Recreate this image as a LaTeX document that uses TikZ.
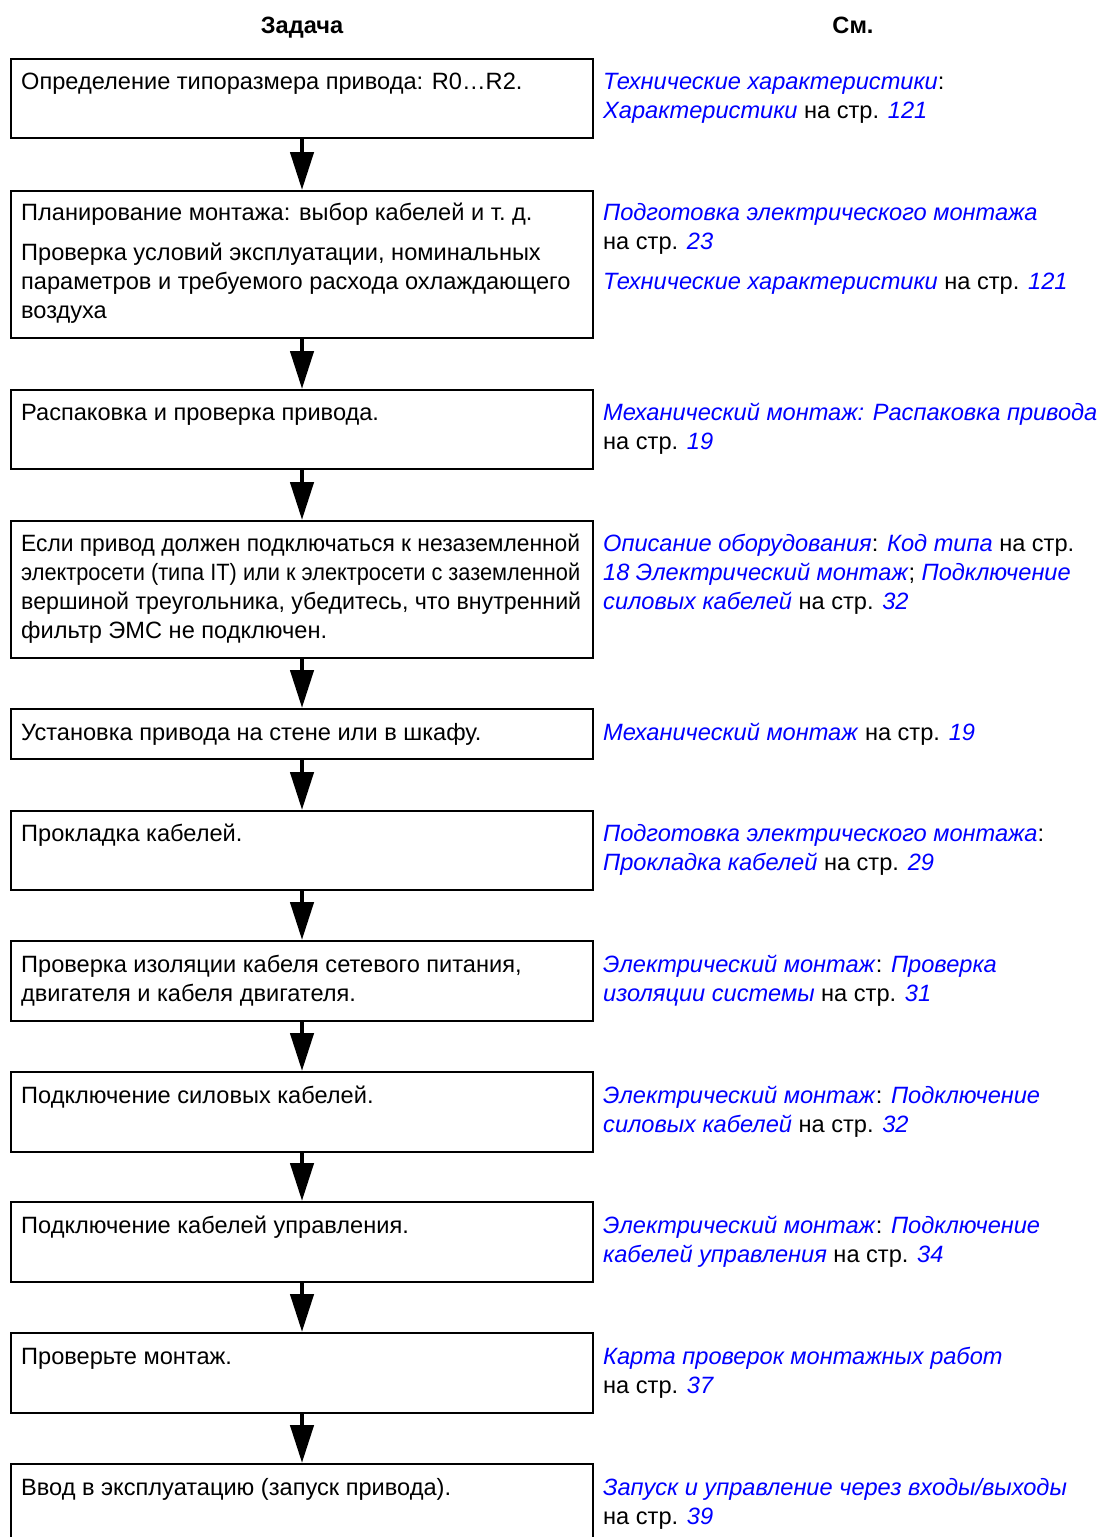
\documentclass[tikz,border=0pt]{standalone}
\usepackage{fontspec}
\setmainfont{Liberation Sans}
\usepackage{xcolor}
\usepackage{graphicx}
\usetikzlibrary{arrows.meta, positioning, calc}

\definecolor{linkblue}{RGB}{0,0,255}
\newcommand{\lnk}[1]{\textcolor{linkblue}{\textit{#1}}}
\newcommand{\tasklines}[1]{\parbox[t]{600pt}{\raggedright #1}}
\newcommand{\reflines}[1]{\parbox[t]{500pt}{\raggedright #1}}
\newcommand{\fitline}[2]{\resizebox{#1}{\height}{#2}}

\begin{document}
\begin{tikzpicture}[x=1pt, y=-1pt]
    % Define styles
    \tikzset{
        task box/.style={
            rectangle,
            draw=black,
            line width=2pt,
            minimum width=582pt,
            anchor=north west,
            inner sep=0pt
        },
        task text/.style={
            anchor=base west,
            inner sep=0pt,
            font=\fontsize{23.6}{29}\selectfont
        },
        ref text/.style={task text},
        head style/.style={anchor=base, inner sep=0pt, font=\fontsize{23.6}{29}\selectfont\bfseries},
        arrow style/.style={-{Triangle[width=23pt, length=38pt]}, line width=4.5pt}
    }
    \useasboundingbox (0,0) rectangle (1103,1537);

    % Column headings
    \node[head style] (h1) at (302,33) {Задача};
    \node[head style] (h2) at (853,33) {См.};

    % Task boxes
    \node[task box, minimum height=79pt]  (b1)  at (10,58) {};
    \node[task box, minimum height=147pt] (b2)  at (10,190) {};
    \node[task box, minimum height=79pt]  (b3)  at (10,389) {};
    \node[task box, minimum height=137pt] (b4)  at (10,520) {};
    \node[task box, minimum height=50pt]  (b5)  at (10,708) {};
    \node[task box, minimum height=79pt]  (b6)  at (10,810) {};
    \node[task box, minimum height=80pt]  (b7)  at (10,940) {};
    \node[task box, minimum height=80pt]  (b8)  at (10,1071) {};
    \node[task box, minimum height=80pt]  (b9)  at (10,1201) {};
    \node[task box, minimum height=80pt]  (b10) at (10,1332) {};
    \node[task box, minimum height=80pt]  (b11) at (10,1463) {};

    % Task texts
    \node[task text] (t1) at (21,89) {\tasklines{Определение типоразмера привода: R0…R2.}};
    \node[task text] (t2) at (21,220) {\tasklines{Планирование монтажа: выбор кабелей и т.~д.\\[11pt]
        Проверка условий эксплуатации, номинальных\\
        параметров и требуемого расхода охлаждающего\\
        воздуха}};
    \node[task text] (t3) at (21,420) {\tasklines{Распаковка и проверка привода.}};
    \node[task text] (t4) at (21,551) {\tasklines{\fitline{559pt}{Если привод должен подключаться к незаземленной}\\
        \fitline{559pt}{электросети (типа IT) или к электросети с заземленной}\\
        \fitline{560pt}{вершиной треугольника, убедитесь, что внутренний}\\
        фильтр ЭМС не подключен.}};
    \node[task text] (t5) at (21,740) {\tasklines{Установка привода на стене или в шкафу.}};
    \node[task text] (t6) at (21,841) {\tasklines{Прокладка кабелей.}};
    \node[task text] (t7) at (21,972) {\tasklines{Проверка изоляции кабеля сетевого питания,\\
        двигателя и кабеля двигателя.}};
    \node[task text] (t8) at (21,1103) {\tasklines{Подключение силовых кабелей.}};
    \node[task text] (t9) at (21,1233) {\tasklines{Подключение кабелей управления.}};
    \node[task text] (t10) at (21,1364) {\tasklines{Проверьте монтаж.}};
    \node[task text] (t11) at (21,1495) {\tasklines{Ввод в эксплуатацию (запуск привода).}};

    % References
    \node[ref text] (r1) at (603,89) {\reflines{\lnk{Технические характеристики}:\\
        \lnk{Характеристики} на стр. \lnk{121}}};
    \node[ref text] (r2) at (603,220) {\reflines{\lnk{Подготовка электрического монтажа}\\
        на стр. \lnk{23}\\[11pt]
        \lnk{Технические характеристики} на стр. \lnk{121}}};
    \node[ref text] (r3) at (603,420) {\reflines{\lnk{Механический монтаж: Распаковка привода}\\
        на стр. \lnk{19}}};
    \node[ref text] (r4) at (603,551) {\reflines{\lnk{Описание оборудования}: \lnk{Код типа} на стр.\\
        \lnk{18 Электрический монтаж}; \lnk{Подключение}\\
        \lnk{силовых кабелей} на стр. \lnk{32}}};
    \node[ref text] (r5) at (603,740) {\reflines{\lnk{Механический монтаж} на стр. \lnk{19}}};
    \node[ref text] (r6) at (603,841) {\reflines{\lnk{Подготовка электрического монтажа}:\\
        \lnk{Прокладка кабелей} на стр. \lnk{29}}};
    \node[ref text] (r7) at (603,972) {\reflines{\lnk{Электрический монтаж}: \lnk{Проверка}\\
        \lnk{изоляции системы} на стр. \lnk{31}}};
    \node[ref text] (r8) at (603,1103) {\reflines{\lnk{Электрический монтаж}: \lnk{Подключение}\\
        \lnk{силовых кабелей} на стр. \lnk{32}}};
    \node[ref text] (r9) at (603,1233) {\reflines{\lnk{Электрический монтаж}: \lnk{Подключение}\\
        \lnk{кабелей управления} на стр. \lnk{34}}};
    \node[ref text] (r10) at (603,1364) {\reflines{\lnk{Карта проверок монтажных работ}\\
        на стр. \lnk{37}}};
    \node[ref text] (r11) at (603,1495) {\reflines{\lnk{Запуск и управление через входы/выходы}\\
        на стр. \lnk{39}}};

    % Arrows between tasks
    \draw[arrow style] (b1.south) -- (b2.north);
    \draw[arrow style] (b2.south) -- (b3.north);
    \draw[arrow style] (b3.south) -- (b4.north);
    \draw[arrow style] (b4.south) -- (b5.north);
    \draw[arrow style] (b5.south) -- (b6.north);
    \draw[arrow style] (b6.south) -- (b7.north);
    \draw[arrow style] (b7.south) -- (b8.north);
    \draw[arrow style] (b8.south) -- (b9.north);
    \draw[arrow style] (b9.south) -- (b10.north);
    \draw[arrow style] (b10.south) -- (b11.north);

\end{tikzpicture}
\end{document}
